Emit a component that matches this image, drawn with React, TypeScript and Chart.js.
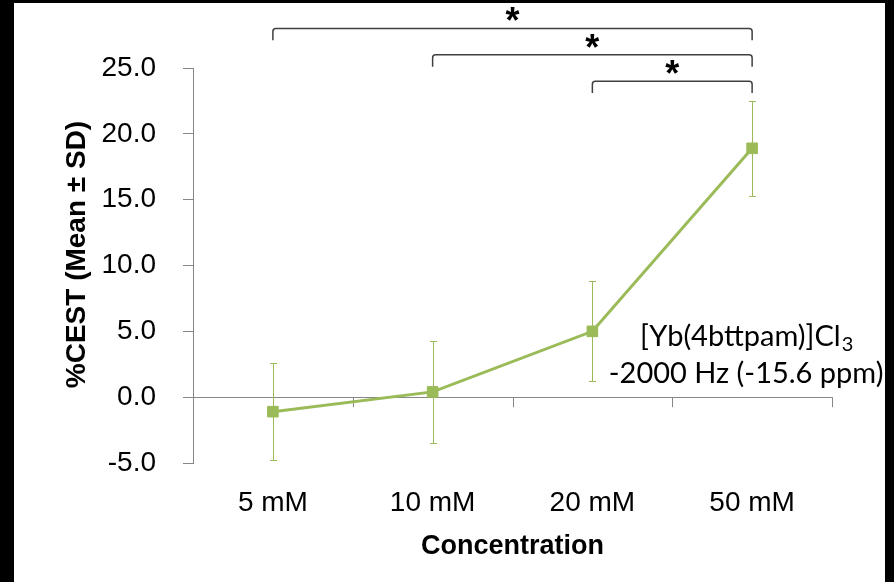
import React, { useEffect, useRef } from "react";
import { Chart, registerables } from "chart.js";

Chart.register(...registerables);

const categories = ["5 mM", "10 mM", "20 mM", "50 mM"];
const meanValues = [-1.1, 0.4, 5.0, 18.9];
const sdValues = [3.7, 3.9, 3.8, 3.6];
const yMin = -5;
const yMax = 25;
const yStep = 5;
const yTitle = "%CEST (Mean ± SD)";
const xTitle = "Concentration";
const annotationLine1 = "[Yb(4bttpam)]Cl";
const annotationSub = "3";
const annotationLine2 = "-2000 Hz (-15.6 ppm)";
// significance brackets (category indices and level in data units)
const bracketFrom = [0, 1, 2];
const bracketTo = [3, 3, 3];
const bracketLevel = [28, 26, 24];
const bracketLabel = ["*", "*", "*"];

const GREEN = "#9BBB59";
const AXIS = "#868686";

const overlayPlugin = {
  id: "overlay",
  beforeDatasetsDraw(chart: any) {
    const { ctx, scales } = chart;
    const x = scales.x;
    const y = scales.y;
    const y0 = y.getPixelForValue(0);
    ctx.save();
    ctx.strokeStyle = AXIS;
    ctx.lineWidth = 1;
    for (let i = 1; i <= categories.length; i++) {
      const px = Math.round(x.getPixelForValue(i - 0.5)) + 0.5;
      ctx.beginPath();
      ctx.moveTo(px, y0);
      ctx.lineTo(px, y0 + 10);
      ctx.stroke();
    }
    ctx.strokeStyle = GREEN;
    ctx.lineWidth = 1;
    meanValues.forEach((m, i) => {
      const px = Math.round(x.getPixelForValue(i)) + 0.5;
      const top = Math.round(y.getPixelForValue(m + sdValues[i])) + 0.5;
      const bot = Math.round(y.getPixelForValue(m - sdValues[i])) + 0.5;
      ctx.beginPath();
      ctx.moveTo(px, top);
      ctx.lineTo(px, bot);
      ctx.moveTo(px - 3.5, top);
      ctx.lineTo(px + 3.5, top);
      ctx.moveTo(px - 3.5, bot);
      ctx.lineTo(px + 3.5, bot);
      ctx.stroke();
    });
    ctx.restore();
  },
  afterDraw(chart: any) {
    const { ctx, scales, chartArea } = chart;
    const x = scales.x;
    const y = scales.y;
    ctx.save();
    // significance brackets
    ctx.strokeStyle = "#404040";
    ctx.lineWidth = 1.5;
    ctx.lineJoin = "round";
    bracketLevel.forEach((lvl, i) => {
      const x1 = x.getPixelForValue(bracketFrom[i]);
      const x2 = x.getPixelForValue(bracketTo[i]);
      const yl = y.getPixelForValue(lvl);
      const ye = y.getPixelForValue(lvl - 0.9);
      ctx.beginPath();
      ctx.moveTo(x1, ye);
      ctx.arcTo(x1, yl, x1 + 4, yl, 3);
      ctx.arcTo(x2, yl, x2, yl + 4, 3);
      ctx.lineTo(x2, ye);
      ctx.stroke();
      const cx = (x1 + x2) / 2;
      const cy = y.getPixelForValue(lvl + 1.15);
      ctx.fillStyle = "#000";
      ctx.font = "bold 36px 'Liberation Sans', Arial, sans-serif";
      ctx.textAlign = "center";
      ctx.textBaseline = "alphabetic";
      ctx.fillText(bracketLabel[i], cx, cy + 20);
    });
    // annotation text
    const acx = x.getPixelForValue(3) - 6;
    ctx.fillStyle = "#000";
    ctx.textBaseline = "middle";
    ctx.textAlign = "left";
    const mainFont = "29px Lato, 'Open Sans', sans-serif";
    const subFont = "20px Lato, 'Open Sans', sans-serif";
    ctx.font = mainFont;
    const w1 = ctx.measureText(annotationLine1).width;
    ctx.font = subFont;
    const ws = ctx.measureText(annotationSub).width;
    const l1y = y.getPixelForValue(4.6);
    const startX = acx - (w1 + ws) / 2;
    ctx.font = mainFont;
    ctx.fillText(annotationLine1, startX, l1y);
    ctx.font = subFont;
    ctx.fillText(annotationSub, startX + w1 + 1, l1y + 8);
    ctx.font = mainFont;
    ctx.textAlign = "center";
    ctx.fillText(annotationLine2, acx, y.getPixelForValue(1.75));
    // y axis title
    ctx.translate(63, (chartArea.top + chartArea.bottom) / 2 - 11);
    ctx.rotate(-Math.PI / 2);
    ctx.font = "bold 28px 'Liberation Sans', Arial, sans-serif";
    ctx.textAlign = "center";
    ctx.textBaseline = "middle";
    ctx.fillText(yTitle, 0, 0);
    ctx.restore();
  },
};

export default function App() {
  const canvasRef = useRef<HTMLCanvasElement | null>(null);

  useEffect(() => {
    const canvas = canvasRef.current;
    if (!canvas) return;
    const chart = new Chart(canvas, {
      type: "line",
      data: {
        labels: categories,
        datasets: [
          {
            label: "%CEST",
            data: meanValues,
            borderColor: GREEN,
            backgroundColor: GREEN,
            borderWidth: 3,
            pointStyle: "rect",
            pointRadius: 7.5,
            pointBorderWidth: 1,
            pointBackgroundColor: GREEN,
            pointBorderColor: GREEN,
            tension: 0,
            fill: false,
          },
        ],
      },
      options: {
        animation: false,
        responsive: false,
        devicePixelRatio: 1,
        layout: { padding: { top: 65, right: 53, bottom: 0, left: 0 } },
        plugins: {
          legend: { display: false },
          tooltip: { enabled: false },
        },
        scales: {
          x: {
            type: "category",
            offset: true,
            grid: { display: false, drawTicks: false },
            border: { display: false },
            ticks: {
              color: "#000",
              padding: 23,
              font: { family: "'Liberation Sans', Arial, sans-serif", size: 28 },
              maxRotation: 0,
              autoSkip: false,
            },
            title: {
              display: true,
              text: xTitle,
              color: "#000",
              font: { family: "'Liberation Sans', Arial, sans-serif", size: 27, weight: "bold" },
              padding: { top: 0, bottom: 19 },
            },
            afterFit(scale: any) {
              scale.height = 119;
            },
          },
          y: {
            min: yMin,
            max: yMax,
            ticks: {
              stepSize: yStep,
              color: "#000",
              padding: 27,
              font: { family: "'Liberation Sans', Arial, sans-serif", size: 28 },
              callback: (v: any) => Number(v).toFixed(1),
            },
            grid: {
              drawOnChartArea: true,
              drawTicks: true,
              tickLength: 10,
              tickColor: AXIS,
              lineWidth: 1,
              color: (c: any) => (c.tick && c.tick.value === 0 ? AXIS : "rgba(0,0,0,0)"),
            },
            border: { display: true, color: AXIS, width: 1 },
            afterFit(scale: any) {
              scale.width = 179;
            },
          },
        },
      },
      plugins: [overlayPlugin],
    });
    return () => chart.destroy();
  }, []);

  return (
    <div
      style={{
        position: "absolute",
        left: 0,
        top: 0,
        width: 894,
        height: 582,
        background: "#000",
        overflow: "hidden",
      }}
    >
      <div
        style={{
          position: "absolute",
          left: 14,
          top: 3,
          width: 871,
          height: 579,
          background: "#fff",
        }}
      >
        <canvas ref={canvasRef} width={871} height={579} style={{ display: "block" }} />
      </div>
    </div>
  );
}
